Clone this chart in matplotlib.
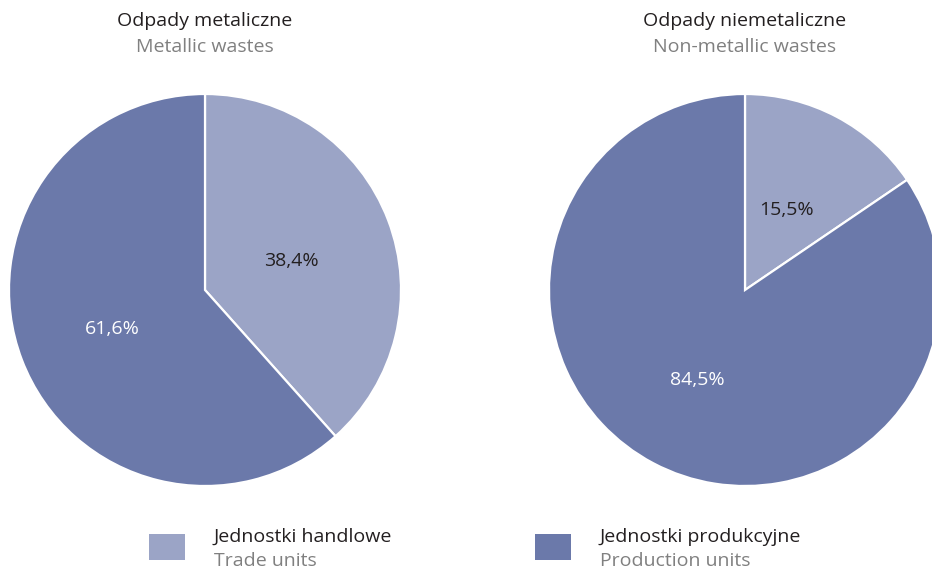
import matplotlib.pyplot as plt
from matplotlib.patches import Rectangle

# data
titles_pl = ['Odpady metaliczne', 'Odpady niemetaliczne']
titles_en = ['Metallic wastes', 'Non-metallic wastes']
trade_share = [38.4, 15.5]
production_share = [61.6, 84.5]
legend_pl = ['Jednostki handlowe', 'Jednostki produkcyjne']
legend_en = ['Trade units', 'Production units']

LIGHT = '#9ba4c6'
DARK = '#6b79aa'
GRAY = '#808080'
TXT = '#231f20'

plt.rcParams['font.family'] = ['Open Sans', 'DejaVu Sans']

W, H = 932, 570
fig = plt.figure(figsize=(W / 100, H / 100), dpi=100)


def px_axes(cx, cy, r):
    # axes in pixel coordinates (top-left origin)
    return fig.add_axes([(cx - r) / W, 1 - (cy + r) / H, 2 * r / W, 2 * r / H])


centers = [(205, 290), (745, 290)]
R = 196
for i, (cx, cy) in enumerate(centers):
    ax = px_axes(cx, cy, R)
    vals = [trade_share[i], production_share[i]]
    wedges, texts, autotexts = ax.pie(
        vals, colors=[LIGHT, DARK], startangle=90, counterclock=False,
        autopct=lambda p: ('%.1f%%' % p).replace('.', ','),
        pctdistance=0.49, radius=1,
        wedgeprops=dict(edgecolor='white', linewidth=1.6),
        textprops=dict(fontsize=14))
    autotexts[0].set_color(TXT)
    autotexts[1].set_color('white')
    for t in autotexts:
        x, y = t.get_position()
        t.set_position((x - 0.015, y - 0.025))
    ax.set_xlim(-1, 1)
    ax.set_ylim(-1, 1)
    ax.set_aspect('equal')
    ax.axis('off')
    fig.text(cx / W, 1 - 21 / H, titles_pl[i], ha='center', va='center',
             fontsize=14, color=TXT)
    fig.text(cx / W, 1 - 47 / H, titles_en[i], ha='center', va='center',
             fontsize=14, color=GRAY)

# legend
leg_x = [149, 535]
leg_colors = [LIGHT, DARK]
for i, x0 in enumerate(leg_x):
    fig.patches.append(Rectangle((x0 / W, 1 - 560 / H), 36 / W, 26 / H,
                                 transform=fig.transFigure,
                                 facecolor=leg_colors[i], edgecolor='none'))
    fig.text((x0 + 65) / W, 1 - 537 / H, legend_pl[i], ha='left', va='center',
             fontsize=14, color=TXT)
    fig.text((x0 + 65) / W, 1 - 561 / H, legend_en[i], ha='left', va='center',
             fontsize=14, color=GRAY)

fig.savefig('out.png', dpi=100)
